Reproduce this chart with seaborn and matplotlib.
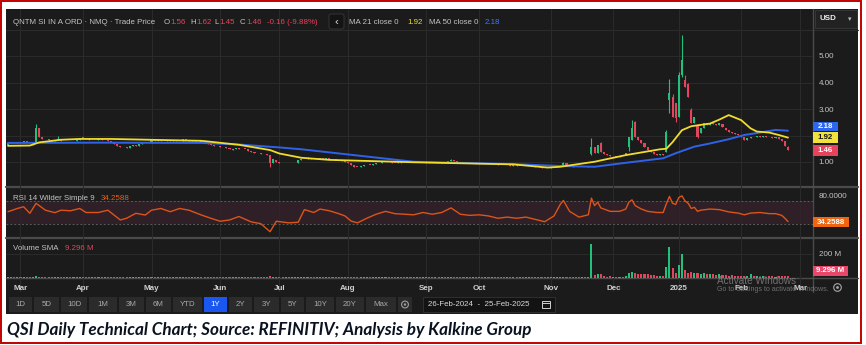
import numpy as np
import pandas as pd
import matplotlib
matplotlib.use("Agg")
import matplotlib.pyplot as plt
import seaborn as sns
from matplotlib.patches import Rectangle, Circle, FancyBboxPatch

# ---------------- data ----------------
holidays = ['2024-03-29', '2024-05-27', '2024-06-19', '2024-07-04', '2024-09-02',
            '2024-11-28', '2024-12-25', '2025-01-01', '2025-01-09', '2025-01-20', '2025-02-17']

opens = [
    1.64,1.70,1.75,1.71,1.77,1.73,1.78,1.75,1.66,1.72,2.28,1.94,1.88,1.85,1.84,1.79,1.82,1.86,1.80,1.78,1.81,1.78,1.80,1.84,
    1.94,1.90,1.86,1.82,1.84,1.82,1.85,1.82,1.84,1.80,1.74,1.68,1.62,1.58,1.55,1.54,1.60,1.65,1.62,1.68,1.72,1.70,
    1.73,1.83,1.79,1.82,1.79,1.81,1.84,1.80,1.82,1.78,1.80,1.87,1.83,1.80,1.82,1.79,1.80,1.74,1.70,1.68,1.66,1.62,
    1.60,1.56,1.55,1.52,1.47,1.49,1.51,1.48,1.50,1.49,1.42,1.38,1.35,1.33,1.31,1.30,1.28,0.98,1.08,
    0.99,0.97,0.96,0.97,0.95,0.96,0.97,1.08,1.10,1.12,1.15,1.13,1.10,1.12,1.14,1.12,1.15,1.13,1.10,1.08,1.06,1.03,
    1.01,0.95,0.88,0.83,0.82,0.84,0.87,0.90,0.89,0.92,0.95,0.97,0.99,1.01,0.99,0.98,0.97,0.99,0.97,0.96,0.98,0.97,
    0.96,0.97,0.96,0.98,1.00,0.97,0.96,0.98,0.97,0.99,0.98,1.02,1.06,1.04,0.99,0.97,0.96,0.97,0.95,0.96,
    0.94,0.95,0.94,0.96,0.93,0.95,0.92,0.90,0.89,0.87,0.88,0.86,0.87,0.85,0.86,0.84,0.85,0.86,0.84,0.83,0.82,0.79,0.77,
    0.78,0.80,0.82,0.84,0.88,0.96,0.90,0.86,0.83,0.81,0.80,0.82,0.81,1.30,1.57,1.33,1.71,1.39,1.30,1.26,
    1.21,1.24,1.20,1.24,1.25,1.55,1.83,2.52,1.96,1.83,1.70,1.58,1.45,1.36,1.30,1.26,1.32,1.39,3.34,3.46,3.21,
    2.71,4.28,4.09,3.96,2.96,2.46,2.40,2.08,2.30,2.46,2.40,2.46,2.42,2.40,2.42,2.30,2.20,2.15,2.10,2.05,
    2.02,1.94,1.84,1.90,1.96,1.94,1.97,1.95,1.98,1.96,1.94,1.91,1.93,1.88,1.78,1.56,
]
closes = [
    1.70,1.74,1.72,1.76,1.73,1.78,1.75,1.70,1.72,2.28,1.94,1.88,1.85,1.84,1.80,1.82,1.86,1.80,1.79,1.81,1.78,1.80,1.84,1.92,
    1.90,1.86,1.83,1.84,1.82,1.85,1.83,1.84,1.80,1.74,1.68,1.62,1.58,1.55,1.53,1.60,1.64,1.62,1.68,1.72,1.70,1.73,
    1.83,1.80,1.82,1.79,1.81,1.84,1.80,1.82,1.78,1.80,1.87,1.83,1.80,1.82,1.79,1.80,1.74,1.70,1.68,1.66,1.62,1.60,
    1.56,1.55,1.52,1.48,1.49,1.51,1.48,1.50,1.49,1.42,1.38,1.35,1.33,1.31,1.30,1.28,0.98,1.10,0.99,
    0.97,0.96,0.97,0.95,0.96,0.97,1.08,1.10,1.12,1.15,1.13,1.10,1.12,1.14,1.12,1.15,1.13,1.10,1.08,1.06,1.03,1.01,
    0.95,0.88,0.83,0.82,0.84,0.87,0.90,0.89,0.92,0.95,0.97,0.99,1.01,0.99,0.98,0.97,0.99,0.97,0.96,0.98,0.97,0.96,
    0.97,0.96,0.98,1.00,0.97,0.96,0.98,0.97,0.99,0.98,1.02,1.06,1.04,0.99,0.97,0.96,0.97,0.95,0.96,0.94,
    0.95,0.94,0.96,0.93,0.95,0.92,0.90,0.89,0.87,0.88,0.86,0.87,0.85,0.86,0.84,0.85,0.86,0.84,0.83,0.82,0.79,0.77,0.78,
    0.80,0.82,0.84,0.88,0.96,0.90,0.86,0.83,0.81,0.80,0.82,0.81,0.86,1.57,1.33,1.64,1.39,1.30,1.26,1.22,
    1.24,1.20,1.24,1.22,1.33,1.96,2.27,1.96,1.83,1.70,1.58,1.45,1.36,1.30,1.28,1.30,1.28,2.14,3.59,2.71,2.65,
    4.28,4.85,3.84,3.46,2.46,2.71,1.96,2.27,2.46,2.40,2.46,2.42,2.40,2.46,2.33,2.21,2.15,2.10,2.05,2.02,
    1.96,1.83,1.90,1.96,1.94,1.97,1.95,1.98,1.96,1.94,1.92,1.93,1.88,1.80,1.62,1.46,
]
wick_highs = {9: 2.43, 16: 1.98, 96: 1.18, 142: 1.10, 178: 1.01, 187: 1.90, 190: 1.75, 200: 2.58,
              201: 2.55, 211: 2.20, 212: 4.12, 213: 3.55, 215: 4.41, 216: 5.80, 217: 4.30,
              218: 4.00, 219: 3.05, 250: 1.62}
wick_lows = {84: 0.81, 187: 1.25, 199: 1.40, 212: 2.85, 214: 2.52, 216: 4.20, 221: 1.90, 250: 1.45}

volumes_m = [
    5,4,4,5,4,3,4,5,6,14,9,6,5,4,4,5,6,4,3,4,4,3,4,6,
    5,4,4,3,4,3,4,3,4,5,5,6,5,4,4,5,4,3,4,4,3,4,
    6,4,4,3,4,4,3,3,4,3,5,4,3,3,3,3,4,4,5,4,4,5,
    4,4,5,5,4,3,3,4,3,4,5,5,4,4,4,4,12,7,5,
    4,4,3,3,3,3,6,5,4,5,4,3,3,4,3,4,3,3,4,4,4,5,
    5,6,6,5,4,4,4,3,4,4,3,4,4,3,3,3,3,3,3,3,3,3,
    3,3,3,3,3,3,3,3,3,3,4,6,4,4,3,3,3,3,3,3,
    3,3,3,3,3,3,3,3,3,3,3,3,3,3,3,3,3,3,3,3,4,4,3,
    4,4,5,6,8,5,4,4,3,3,4,3,5,278,25,30,28,12,10,11,
    10,9,10,9,15,40,45,42,30,28,32,30,22,20,18,15,16,89,256,80,42,
    106,195,61,42,45,38,40,35,38,33,30,28,25,30,22,20,18,20,16,15,
    14,16,14,28,12,14,10,12,10,11,12,10,12,14,16,14,
]

ma21_idx = [0, 7, 10, 17, 23, 33, 45, 62, 74, 84, 87, 94, 103, 130, 162, 173, 177, 188, 198, 209,
            211, 213, 216, 219, 222, 225, 228, 231, 235, 238, 240, 244, 247, 250]
ma21_val = [1.61, 1.62, 1.74, 1.84, 1.87, 1.87, 1.84, 1.80, 1.65, 1.45, 1.32, 1.16, 1.08, 0.99, 0.91, 0.79,
            0.82, 1.01, 1.26, 1.48, 1.50, 1.75, 2.20, 2.35, 2.40, 2.45, 2.60, 2.77, 2.58, 2.27, 2.15, 2.11,
            2.02, 1.92]
ma50_idx = [0, 29, 62, 74, 87, 94, 130, 162, 177, 188, 198, 210, 214, 220, 225, 231, 236, 241, 246, 250]
ma50_val = [1.72, 1.73, 1.72, 1.66, 1.55, 1.48, 1.01, 0.92, 0.85, 0.82, 0.97, 1.14, 1.33, 1.58, 1.70,
            1.86, 2.02, 2.11, 2.21, 2.18]

rsi_idx = [0,3,5,7,9,12,15,17,20,23,25,29,32,36,38,41,44,46,49,52,55,58,62,65,68,71,74,78,81,82,84,86,90,93,
           95,98,100,103,106,108,110,112,115,118,121,124,127,130,133,136,139,142,145,148,151,154,157,160,163,
           166,169,172,175,177,178,180,183,186,187,188,189,190,193,196,198,199,200,201,203,205,208,210,211,212,
           213,214,215,216,217,218,219,220,221,222,225,228,231,234,236,238,241,244,246,248,249,250]
rsi_val = [51.4,57,60,48.6,66,54,49.7,54,53,57,50,50,54,37,40,48.6,45.6,54,57,51.4,57,54,45.6,40,34.8,37,43,
           33.6,30.6,26,16.6,34.8,32,33,
           55,50,56,53,48,44,35,32,40,47,52,48,47,46,50,47,50,58,47,45,46,44,40,42,40,42,38,34,44,64,71,52,42,
           46,75,62,68,58,52,52,56,68,72,62,56,52,50,50,65,78,66,64,76,79,70,66,57,59,52,54,56,55,51,49,46,49,
           50,48,48,45,40,34.2588]

tick_dates = ['2024-03-01', '2024-04-01', '2024-05-01', '2024-06-03', '2024-07-01', '2024-08-01',
              '2024-09-06', '2024-10-01', '2024-11-01', '2024-12-02', '2025-01-02', '2025-02-03', '2025-03-03']
tick_labels = ['Mar', 'Apr', 'May', 'Jun', 'Jul', 'Aug', 'Sep', 'Oct', 'Nov', 'Dec', '2025', 'Feb', 'Mar']
price_ticks = [1, 2, 3, 4, 5]

range_buttons = ['1D', '5D', '10D', '1M', '3M', '6M', 'YTD', '1Y', '2Y', '3Y', '5Y', '10Y', '20Y', 'Max']

assert len(opens) == len(closes) == len(volumes_m) == 251
assert len(rsi_idx) == len(rsi_val)

# ---------------- derived frame ----------------
cal = pd.bdate_range('2024-02-26', '2025-03-07')
cal = cal[~cal.isin(pd.to_datetime(holidays))]
n = len(closes)
df = pd.DataFrame({'date': cal[:n], 'open': opens, 'close': closes, 'vol': volumes_m})
df['i'] = np.arange(n)
df['high'] = [wick_highs.get(i, max(o, c)) for i, o, c in zip(df.i, df.open, df.close)]
df['low'] = [wick_lows.get(i, min(o, c)) for i, o, c in zip(df.i, df.open, df.close)]
GREEN, RED = '#22c07a', '#e6445c'
df['col'] = np.where(df.close >= df.open, GREEN, RED)
tick_pos = cal.searchsorted(pd.to_datetime(tick_dates))

# ---------------- figure ----------------
sns.set_style("dark")
plt.rcParams['font.family'] = ['Liberation Sans', 'DejaVu Sans']
W, H = 866, 345
fig = plt.figure(figsize=(W / 100, H / 100), dpi=100)
fig.patch.set_facecolor('white')
BG = '#1b1b1b'
GRID = '#2a2a2a'
TXT = '#c4c4c4'

bg = fig.add_axes([0, 0, 1, 1], zorder=0)
bg.set_xlim(0, W); bg.set_ylim(H, 0); bg.axis('off')
bg.add_patch(Rectangle((6, 9), 852, 305, color=BG, lw=0))

top = fig.add_axes([0, 0, 1, 1], zorder=10)
top.set_xlim(0, W); top.set_ylim(H, 0); top.axis('off'); top.patch.set_alpha(0)

XLIM = ((6 - 8) / 3.12, (813 - 8) / 3.12)


def px_axes(x0, y0, x1, y1, z=2):
    ax = fig.add_axes([x0 / W, 1 - y1 / H, (x1 - x0) / W, (y1 - y0) / H], zorder=z)
    ax.set_facecolor('none')
    for s in ax.spines.values():
        s.set_visible(False)
    ax.set_xticks([]); ax.set_yticks([])
    ax.set_xlim(*XLIM)
    return ax


# vertical month grid across the whole chart
axg = px_axes(6, 9, 813, 292, z=1)
axg.set_ylim(0, 1)
for p in tick_pos:
    axg.axvline(p, color=GRID, lw=0.8)

# price panel
ax_p = px_axes(6, 30, 813, 186, z=3)
ax_p.set_ylim((188.5 - 186) / 26.5, (188.5 - 30) / 26.5)
for tk in price_ticks:
    ax_p.axhline(tk, color=GRID, lw=0.8, zorder=0)
body = np.maximum((df.close - df.open).abs(), 0.02)
ax_p.vlines(df.i, df.low, df.high, colors=df.col, lw=0.8, zorder=2)
ax_p.bar(df.i, body, bottom=np.minimum(df.open, df.close), width=0.66, color=df.col, lw=0, zorder=3)
sns.lineplot(x=ma50_idx, y=ma50_val, ax=ax_p, color='#2f62e8', linewidth=1.4, zorder=4)
sns.lineplot(x=ma21_idx, y=ma21_val, ax=ax_p, color='#f0dc2c', linewidth=1.3, zorder=5)
ax_p.yaxis.tick_right()
ax_p.set_yticks(price_ticks, [f'{v:.2f}' for v in price_ticks])
ax_p.tick_params(axis='y', length=0, pad=4, labelsize=5.8, labelcolor=TXT)
ax_p.set_xlabel(''); ax_p.set_ylabel('')

# RSI panel
ax_r = px_axes(6, 187, 813, 237, z=3)
ax_r.set_ylim(70 - (237 - 201) / 0.575, 70 - (187 - 201) / 0.575)
ax_r.axhspan(30, 70, color='#33222a', alpha=0.85, lw=0, zorder=0)
ax_r.axhline(70, color='#5c5c5c', lw=0.7, ls=(0, (2, 2)))
ax_r.axhline(30, color='#5c5c5c', lw=0.7, ls=(0, (2, 2)))
sns.lineplot(x=rsi_idx, y=rsi_val, ax=ax_r, color='#dc5418', linewidth=1.0, zorder=3)
ax_r.yaxis.tick_right()
ax_r.set_yticks([80], ['80.0000'])
ax_r.tick_params(axis='y', length=0, pad=4, labelsize=5.8, labelcolor=TXT)
ax_r.set_xlabel(''); ax_r.set_ylabel('')

# volume panel
ax_v = px_axes(6, 238, 813, 278, z=3)
ax_v.set_ylim(-2, (278 - 238) / 24 * 200 - 2)
ax_v.axhline(200, color=GRID, lw=0.8, zorder=0)
ax_v.bar(df.i, df.vol, width=0.66, color=df.col, lw=0, zorder=2)
ax_v.yaxis.tick_right()
ax_v.set_yticks([200], ['200 M'])
ax_v.tick_params(axis='y', length=0, pad=4, labelsize=5.8, labelcolor=TXT)
ax_v.set_xticks(tick_pos, tick_labels)
ax_v.tick_params(axis='x', length=0, pad=5, labelsize=5.8, labelcolor='#d0d0d0')
for lab in ax_v.get_xticklabels():
    lab.set_fontweight('bold')

# separators
for y, c, lw in [(30, '#2c2c2c', 0.8), (186.5, '#4a4a4a', 1.6), (237.5, '#4a4a4a', 1.6), (278, '#4a4a4a', 1.0)]:
    bg.plot([6, 858], [y, y], color=c, lw=lw)
bg.plot([813, 813], [9, 292], color='#4a4a4a', lw=1.0)

# header
fs = 5.7
def t(x, y, s, c=TXT, **kw):
    top.text(x, y, s, color=c, fontsize=kw.pop('fs', fs), va='center', ha=kw.pop('ha', 'left'), **kw)

t(13, 22, 'QNTM SI IN A ORD · NMQ · Trade Price')
t(164, 22, 'O'); t(170.5, 22, '1.56', RED)
t(190, 22, 'H'); t(196.5, 22, '1.62', RED)
t(214, 22, 'L'); t(219, 22, '1.45', RED)
t(240, 22, 'C'); t(246, 22, '1.46', RED)
t(267, 22, '-0.16 (-9.88%)', RED)
top.add_patch(FancyBboxPatch((329, 14), 15, 15, boxstyle='round,pad=0,rounding_size=2',
                             fc='#141414', ec='#3a3a3a', lw=0.6))
t(336.5, 21.5, '‹', '#e0e0e0', ha='center', fs=8)
t(349, 22, 'MA 21 close 0'); t(407, 22, '1.92', '#eadb33')
t(429, 22, 'MA 50 close 0'); t(485, 22, '2.18', '#3d78ff')
top.add_patch(Rectangle((815, 10), 42, 18, fc='#222222', ec='#3a3a3a', lw=0.6))
t(819, 19, 'USD', '#f0f0f0', fontweight='bold')
t(850, 19.5, '▾', '#bbbbbb', ha='center', fs=5)

# panel labels
t(13, 198, 'RSI 14 Wilder Simple 9')
t(101, 198, '34.2588', '#e8601c')
t(13, 248, 'Volume SMA')
t(65, 248, '9.296 M', '#e6445c')

# value boxes on the right axis
for (y0, y1, fc, tc, s) in [(121.5, 130.5, '#2f66f0', 'white', '2.18'),
                             (131.5, 142.5, '#f0e23a', '#111111', '1.92'),
                             (144.5, 155.5, '#e6445c', 'white', '1.46')]:
    top.add_patch(Rectangle((813, y0), 24.5, y1 - y0, fc=fc, lw=0))
    t(825.2, (y0 + y1) / 2 + 0.3, s, tc, ha='center', fontweight='bold')
top.add_patch(Rectangle((813, 216.5), 36, 10.5, fc='#f0650f', lw=0))
t(831, 222, '34.2588', 'white', ha='center', fontweight='bold')
top.add_patch(Rectangle((813, 265.5), 35, 10, fc='#e8466a', lw=0))
t(830.5, 270.7, '9.296 M', 'white', ha='center', fontweight='bold')

# watermark & gear
t(717, 280.5, 'Activate Windows', '#8c8c8c', fs=7.2, alpha=0.75)
t(717, 289.5, 'Go to Settings to activate Windows.', '#8c8c8c', fs=5.0, alpha=0.75)
top.add_patch(Circle((837.5, 287.5), 3.8, fc='none', ec='#a8a8a8', lw=0.8))
top.add_patch(Circle((837.5, 287.5), 1.4, fc='#a8a8a8', lw=0))

# toolbar
edges = [8, 33, 60, 88, 118, 145, 172, 203, 228, 253, 280, 305, 335, 365, 397]
for k, lab in enumerate(range_buttons):
    x0, x1 = edges[k], edges[k + 1]
    sel = lab == '1Y'
    top.add_patch(Rectangle((x0 + 0.6, 297), x1 - x0 - 1.2, 15,
                            fc='#1a56f0' if sel else '#2b2b2b', lw=0))
    t((x0 + x1) / 2, 304.7, lab, 'white' if sel else '#a8a8a8', ha='center')
top.add_patch(Rectangle((398, 297), 14, 15, fc='#2b2b2b', lw=0))
top.add_patch(Circle((405, 304.5), 3.4, fc='none', ec='#a0a0a0', lw=0.8))
top.add_patch(Circle((405, 304.5), 1.2, fc='#a0a0a0', lw=0))
top.add_patch(Rectangle((423, 297), 132, 15, fc='#131313', ec='#333333', lw=0.6))
t(428, 304.7, '26-Feb-2024  -  25-Feb-2025', '#d8d8d8')
top.add_patch(Rectangle((542, 300.5), 7.5, 7, fc='none', ec='#d0d0d0', lw=0.7))
top.plot([542, 549.5], [302.5, 302.5], color='#d0d0d0', lw=0.7)

# caption
top.text(7, 330, 'QSI Daily Technical Chart; Source: REFINITIV; Analysis by Kalkine Group',
         color='#0a1220', fontsize=12.3, fontweight='bold', fontstyle='italic',
         family=['Lato', 'DejaVu Sans'], va='center', ha='left')

# outer red frame
top.add_patch(Rectangle((1, 1), 859.5, 342, fc='none', ec='#c00000', lw=1.4))

fig.savefig('out.png', dpi=100, facecolor='white')
